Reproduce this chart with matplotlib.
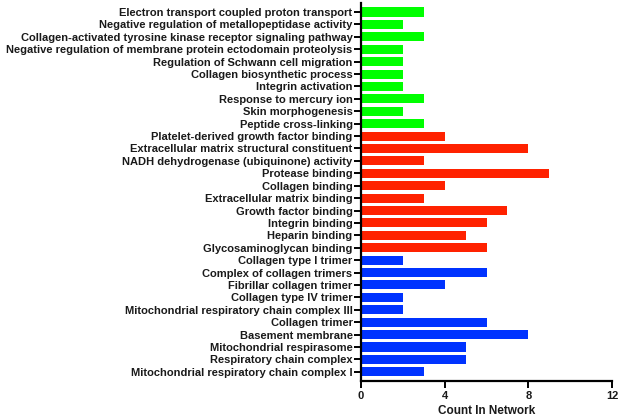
import matplotlib
matplotlib.use("Agg")
import matplotlib.pyplot as plt

bp_terms = ["Electron transport coupled proton transport",
            "Negative regulation of metallopeptidase activity",
            "Collagen-activated tyrosine kinase receptor signaling pathway",
            "Negative regulation of membrane protein ectodomain proteolysis",
            "Regulation of Schwann cell migration",
            "Collagen biosynthetic process",
            "Integrin activation",
            "Response to mercury ion",
            "Skin morphogenesis",
            "Peptide cross-linking"]
bp_counts = [3, 2, 3, 2, 2, 2, 2, 3, 2, 3]

mf_terms = ["Platelet-derived growth factor binding",
            "Extracellular matrix structural constituent",
            "NADH dehydrogenase (ubiquinone) activity",
            "Protease binding",
            "Collagen binding",
            "Extracellular matrix binding",
            "Growth factor binding",
            "Integrin binding",
            "Heparin binding",
            "Glycosaminoglycan binding"]
mf_counts = [4, 8, 3, 9, 4, 3, 7, 6, 5, 6]

cc_terms = ["Collagen type I trimer",
            "Complex of collagen trimers",
            "Fibrillar collagen trimer",
            "Collagen type IV trimer",
            "Mitochondrial respiratory chain complex III",
            "Collagen trimer",
            "Basement membrane",
            "Mitochondrial respirasome",
            "Respiratory chain complex",
            "Mitochondrial respiratory chain complex I"]
cc_counts = [2, 6, 4, 2, 2, 6, 8, 5, 5, 3]

x_ticks = [0, 4, 8, 12]
x_label = "Count In Network"

plt.rcParams['font.family'] = ['Liberation Sans', 'DejaVu Sans']
plt.rcParams['font.weight'] = 'bold'

fig = plt.figure(figsize=(6.19, 4.19), dpi=100)
ax = fig.add_axes([0.583, 0.091, 0.406, 0.902])

terms = bp_terms + mf_terms + cc_terms
counts = bp_counts + mf_counts + cc_counts
colors = ["#00FF00"] * len(bp_terms) + ["#FF2200"] * len(mf_terms) + ["#0033FF"] * len(cc_terms)
n = len(terms)
ypos = [n - 1 - i for i in range(n)]

ax.barh(ypos, counts, height=0.73, color=colors)
ax.set_yticks(ypos)
ax.set_yticklabels(terms, fontsize=8, fontweight='bold', color='#1a1a1a')
ax.set_ylim(-0.73, n - 1 + 0.73)
ax.set_xlim(0, 12)
ax.set_xticks(x_ticks)
ax.set_xticklabels([str(t) for t in x_ticks], fontsize=8, fontweight='bold', color='#1a1a1a')
ax.set_xlabel(x_label, fontsize=8.5, fontweight='bold', labelpad=3, color='#1a1a1a')

for s in ['top', 'right']:
    ax.spines[s].set_visible(False)
for s in ['left', 'bottom']:
    ax.spines[s].set_linewidth(1.6)
ax.tick_params(axis='y', length=5, width=1.4, pad=1)
ax.tick_params(axis='x', length=5, width=1.4, pad=2)

fig.savefig("out.png", dpi=100)
